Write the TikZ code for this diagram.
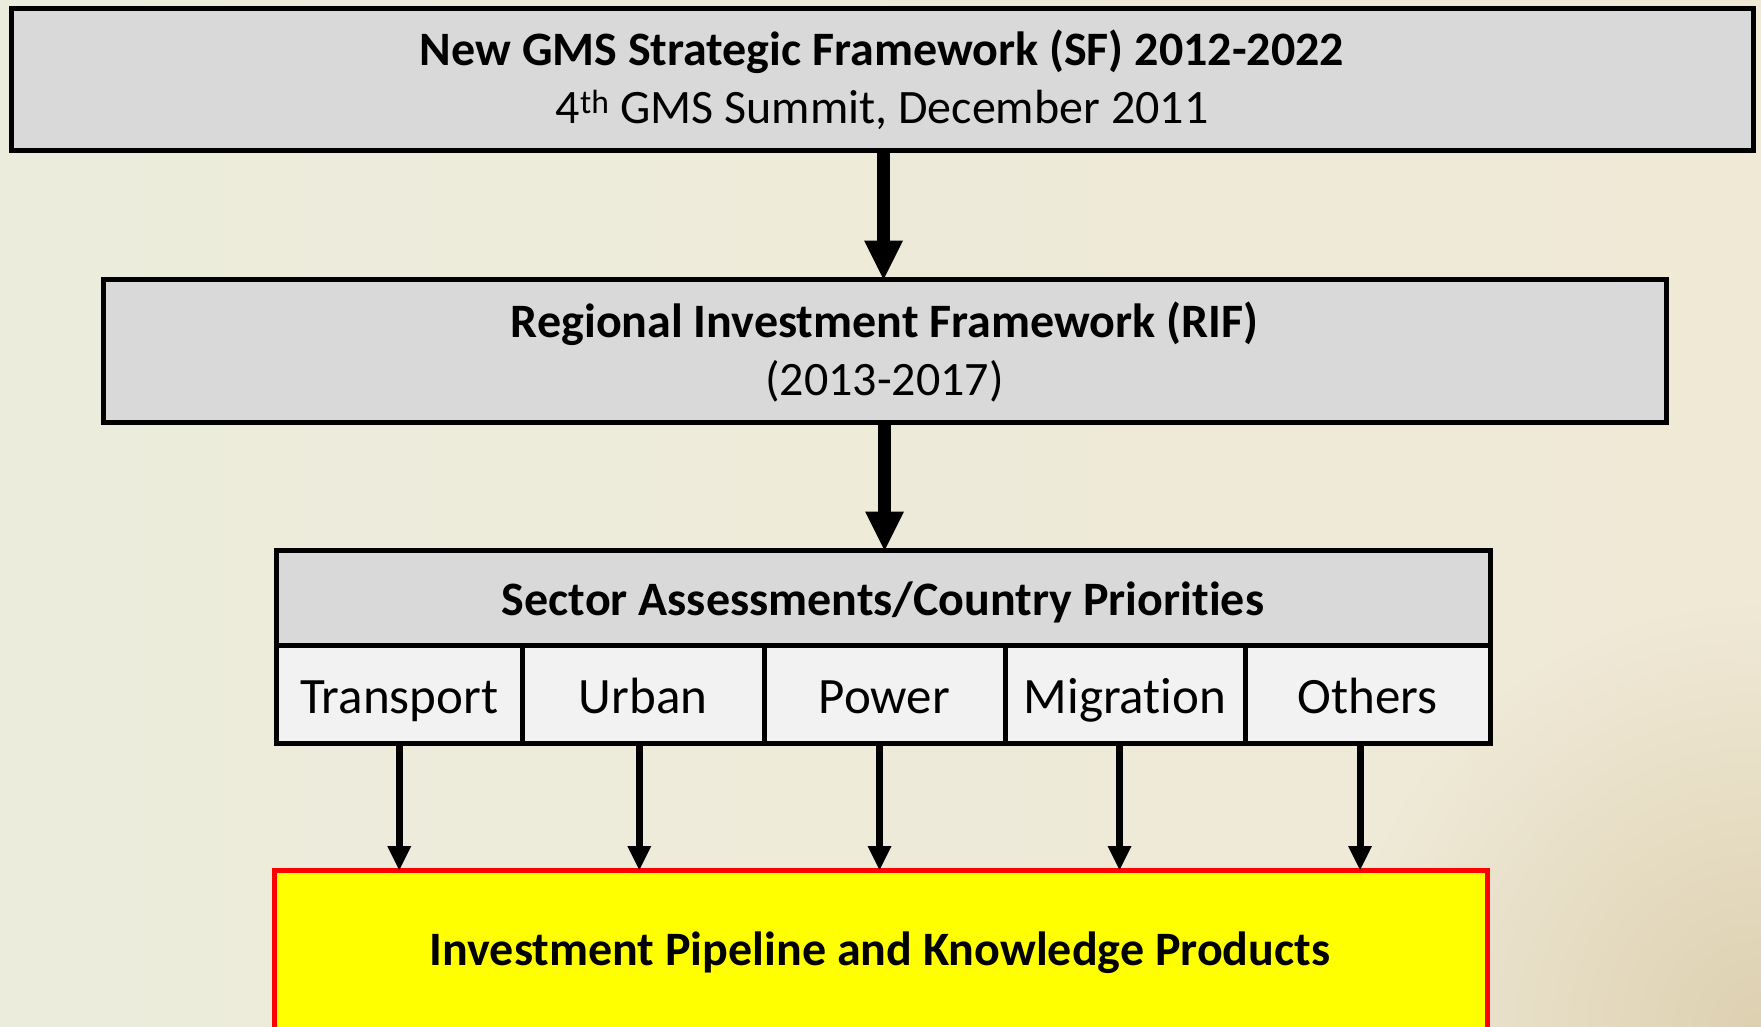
\documentclass[tikz,border=0pt]{standalone}
\usepackage{fontspec}
\setmainfont{Carlito}[Ligatures={NoCommon}]
\usetikzlibrary{arrows.meta,fadings}
\definecolor{boxgray}{HTML}{D9D9D9}
\definecolor{cellgray}{HTML}{F2F2F2}
\definecolor{bgL}{HTML}{ECECDC}
\definecolor{bgR}{HTML}{F0E9D6}
\definecolor{bgTan}{HTML}{D9CBA8}
\definecolor{pipeyellow}{HTML}{FFFF00}
\definecolor{pipered}{HTML}{FF0000}
\tikzfading[name=cornerfade, inner color=transparent!0, outer color=transparent!100]
\begin{document}
\begin{tikzpicture}[x=1pt,y=-1pt,
  box/.style={draw=black,line width=5pt,fill=boxgray,inner sep=0pt,outer sep=0pt},
  cellbox/.style={draw=black,line width=5pt,fill=cellgray,inner sep=0pt,outer sep=0pt},
  pipebox/.style={draw=pipered,line width=5pt,fill=pipeyellow,inner sep=0pt,outer sep=0pt},
  bigarr/.style={line width=13pt,-{Triangle[width=39pt,length=39pt,line width=0pt]}},
  smallarr/.style={line width=7pt,-{Triangle[width=24pt,length=24pt,line width=0pt]}},
  boldtxt/.style={font=\fontsize{48}{58}\selectfont\bfseries,inner sep=0pt,anchor=base},
  regtxt/.style={font=\fontsize{48}{58}\selectfont,inner sep=0pt,anchor=base},
  celltxt/.style={font=\fontsize{51}{62}\selectfont,inner sep=0pt,anchor=base},
]
\useasboundingbox (0,0) rectangle (1761,1026);
\clip (0,0) rectangle (1761,1026);
\shade[left color=bgL,right color=bgR] (0,0) rectangle (1761,1026);
\fill[bgTan,path fading=cornerfade,opacity=0.8] (1761,1026) circle (420);

% top box
\node[box,minimum width=1742pt,minimum height=142pt] (sf) at (882,79.5) {};
\node[boldtxt] (sft1) at (882,65) {New GMS Strategic Framework (SF) 2012-2022};
\node[regtxt] (sft2) at (882,123) {4\textsuperscript{th} GMS Summit, December 2011};

% RIF box
\node[box,minimum width=1563pt,minimum height=143pt] (rif) at (884.5,351) {};
\node[boldtxt] (rift1) at (884.5,337) {Regional Investment Framework (RIF)};
\node[regtxt] (rift2) at (884.5,395) {(2013-2017)};

% sector header and cells
\node[box,minimum width=1214pt,minimum height=95pt] (sec) at (883,598) {};
\node[boldtxt] (sect) at (883,615) {Sector Assessments/Country Priorities};
\node[cellbox,minimum width=246.5pt,minimum height=98pt] (c1) at (399.25,694.5) {};
\node[cellbox,minimum width=241.5pt,minimum height=98pt] (c2) at (643.25,694.5) {};
\node[cellbox,minimum width=241pt,minimum height=98pt] (c3) at (884.5,694.5) {};
\node[cellbox,minimum width=240pt,minimum height=98pt] (c4) at (1125,694.5) {};
\node[cellbox,minimum width=245pt,minimum height=98pt] (c5) at (1367.5,694.5) {};
\node[celltxt] (c1t) at (399.25,713) {Transport};
\node[celltxt] (c2t) at (643.25,713) {Urban};
\node[celltxt] (c3t) at (884.5,713) {Power};
\node[celltxt] (c4t) at (1125,713) {Migration};
\node[celltxt] (c5t) at (1367.5,713) {Others};

% pipeline box
\node[pipebox,minimum width=1213pt,minimum height=170pt] (pipe) at (880.5,955) {};
\node[boldtxt] (pipet) at (880,965) {Investment Pipeline and Knowledge Products};

% arrows
\draw[bigarr] ([xshift=1.5pt]sf.south) -- ([xshift=1.5pt]sf.south |- rif.north);
\draw[bigarr] (rif.south) -- (rif.south |- sec.north);
\draw[smallarr] (c1.south) -- (c1.south |- pipe.north);
\draw[smallarr] ([xshift=-4pt]c2.south) -- ([xshift=-4pt]c2.south |- pipe.north);
\draw[smallarr] ([xshift=-5pt]c3.south) -- ([xshift=-5pt]c3.south |- pipe.north);
\draw[smallarr] ([xshift=-5.5pt]c4.south) -- ([xshift=-5.5pt]c4.south |- pipe.north);
\draw[smallarr] ([xshift=-7.5pt]c5.south) -- ([xshift=-7.5pt]c5.south |- pipe.north);
\end{tikzpicture}
\end{document}
